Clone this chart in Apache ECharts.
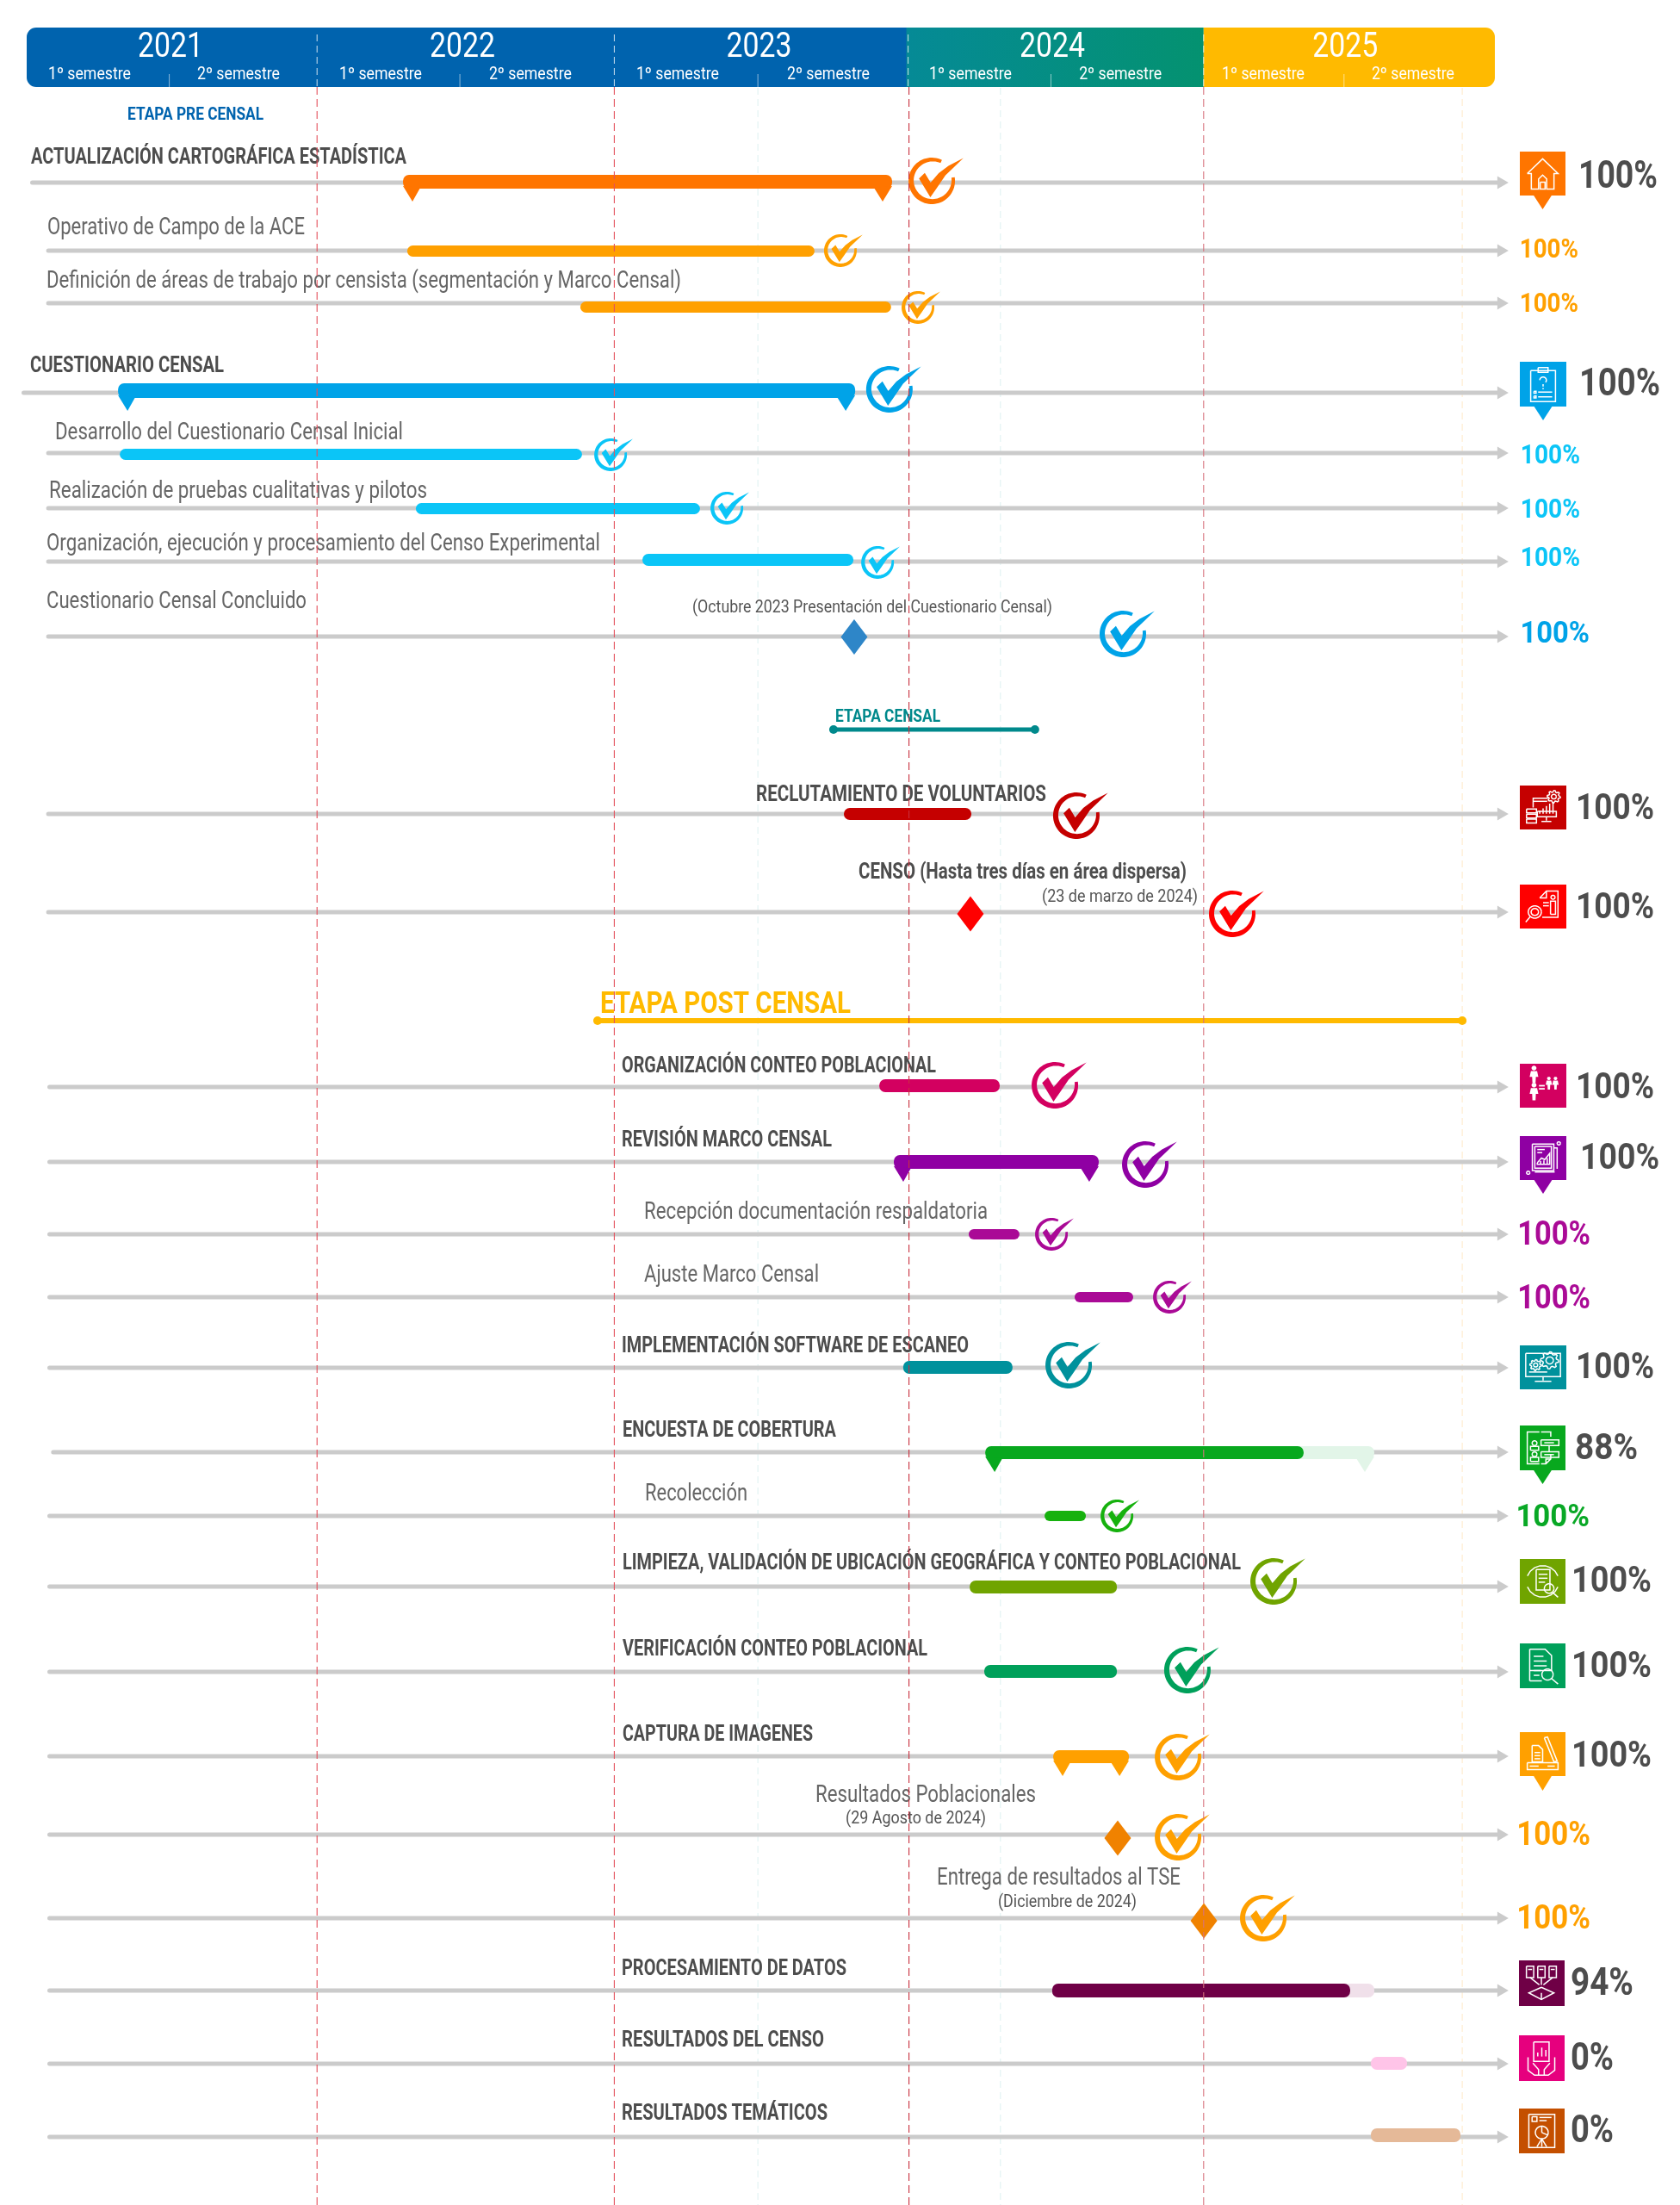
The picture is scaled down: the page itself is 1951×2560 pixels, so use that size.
<!DOCTYPE html>
<html><head><meta charset="utf-8">
<style>html,body{margin:0;padding:0;background:#fff}#c{width:1951px;height:2560px}</style>
<script src="https://cdn.jsdelivr.net/npm/echarts@6/dist/echarts.min.js"></script>
</head><body><div id="c"></div>
<script>
// ---------- DATA (x values are months counted from January 2021) ----------
const years = ['2021','2022','2023','2024','2025'];
const yearCentre = [6.05, 17.9, 29.95, 41.85, 53.75];
const semesterNames = ['1º semestre','2º semestre','1º semestre','2º semestre','1º semestre','2º semestre','1º semestre','2º semestre','1º semestre','2º semestre'];
const semesterCentre = [2.76,8.81,14.58,20.66,26.64,32.76,38.53,44.62,50.42,56.5];
const semesterTicks = [6,17.8,29.9,41.8,53.7];
const yearLines = [12,24,36,48];
const minorLines = [29.9,39.75,58.5];

const rowNames = ['ACTUALIZACIÓN CARTOGRÁFICA ESTADÍSTICA','Operativo de Campo de la ACE','Definición de áreas de trabajo por censista (segmentación y Marco Censal)','CUESTIONARIO CENSAL','Desarrollo del Cuestionario Censal Inicial','Realización de pruebas cualitativas y pilotos','Organización, ejecución y procesamiento del Censo Experimental','Cuestionario Censal Concluido','RECLUTAMIENTO DE VOLUNTARIOS','CENSO (Hasta tres días en área dispersa)','ORGANIZACIÓN CONTEO POBLACIONAL','REVISIÓN MARCO CENSAL','Recepción documentación respaldatoria','Ajuste Marco Censal','IMPLEMENTACIÓN SOFTWARE DE ESCANEO','ENCUESTA DE COBERTURA','Recolección','LIMPIEZA, VALIDACIÓN DE UBICACIÓN GEOGRÁFICA Y CONTEO POBLACIONAL','VERIFICACIÓN CONTEO POBLACIONAL','CAPTURA DE IMAGENES','Resultados Poblacionales','Entrega de resultados al TSE','PROCESAMIENTO DE DATOS','RESULTADOS DEL CENSO','RESULTADOS TEMÁTICOS'];
const rowHeading = [1,0,0,1,0,0,0,0,1,1,1,1,0,0,1,1,0,1,1,1,0,0,1,1,1];
const rowStart = [15.49,15.66,22.69,3.92,3.99,16.01,25.21,null,33.39,null,34.83,35.42,38.46,42.76,35.8,39.13,41.54,38.5,39.09,41.89,null,null,41.85,54.79,54.79];
const rowDone  = [35.35,32.2,35.31,33.85,22.76,27.55,33.78,null,38.57,null,39.72,43.74,40.52,45.14,40.24,52.06,43.22,44.48,44.48,44.97,null,null,53.95,null,null];
const rowPlanEnd = [null,null,null,null,null,null,null,null,null,null,null,null,null,null,null,54.93,null,null,null,null,null,null,54.93,56.26,58.43];
const rowCheck = [36.96,33.25,36.4,35.24,23.92,28.64,34.76,44.72,42.83,49.16,41.96,45.63,41.82,46.61,42.52,null,44.48,50.84,47.34,46.96,46.96,50.42,null,null,null];
const rowMilestone = [null,null,null,null,null,null,null,33.81,null,38.53,null,null,null,null,null,null,null,null,null,null,44.51,48.01,null,null,null];
const rowPercent = [100,100,100,100,100,100,100,100,100,100,100,100,100,100,100,88,100,100,100,100,100,100,94,0,0];
const rowNotes = {7:'(Octubre 2023 Presentación del Cuestionario Censal)',9:'(23 de marzo de 2024)',20:'(29 Agosto de 2024)',21:'(Diciembre de 2024)'};
const phaseNames = ['ETAPA PRE CENSAL','ETAPA CENSAL','ETAPA POST CENSAL'];
const phaseStart = [null,32.97,23.39];
const phaseEnd = [null,41.15,58.5];

// ---------- LAYOUT & STYLE ----------
const rowLevel = [212,291,352,456,526,590,652,739,945,1059,1262,1349,1433,1506,1588,1686,1760,1842,1941,2039,2130,2227,2311,2396,2481];
const trackFrom = [0.35,1,1,0,1,1,1,1,1,1,1.05,1.05,1.05,1.05,1.05,1.2,1.05,1.05,1.05,1.05,1.05,1.05,1.05,1.05,1.05];
const trackEnd = 60.38;
const barLevel = [211,291.5,356.5,453.5,527.5,590.5,650,0,945,0,1260.5,1349,1433,1506,1587.5,1686.5,1760,1842.5,1940.5,2039.5,0,0,2311,2395.5,2479];
const barHeight = [16,13,13,17,13,13,14,0,14,0,15,16,12,12,15,15,12,15,15,15,0,0,16,15,16];
const barColor = ['#ff7500','#ffa000','#ffa000','#00a3e8','#0bc5f7','#0bc5f7','#0bc5f7','','#c50000','','#d30060','#8f00a3','#aa0a96','#aa0a96','#00919c','#08a81e','#16b10e','#70a400','#00a05a','#ffa000','','','#6f0046','#ffc4e8','#e5b998'];
const planColor = {15:'#e2f5e8',22:'#f0e0ea',23:'#ffc4e8',24:'#e5b998'};
const pinRows = {0:1,3:1,11:1,15:1,19:1};
const checkLevel = [210,291,357,452,528,590,653,736,947,1061,1260,1352,1433,1506,1585,0,1760,1836,1939,2040,2133,2227,0,0,0];
const checkRadius = [27,19,19,27,19,19,19,27,27,27,27,27,19,19,27,0,19,27,27,27,27,27,0,0,0];
const checkColor = ['#ff7500','#ffa000','#ffa000','#00a3e8','#0bc5f7','#0bc5f7','#0bc5f7','#00a3e8','#c50000','#ff0000','#d30060','#8f00a3','#aa0a96','#aa0a96','#00919c','','#16b10e','#70a400','#00a05a','#ffa000','#ffa000','#ffa000','','',''];
const milestoneLevel = {7:739.5,9:1061,20:2134,21:2230};
const milestoneColor = {7:'#2e86c8',9:'#ff0000',20:'#f08200',21:'#f08200'};
const labelBox = [[36,190,436],[55,272,299],[54,334,737],[35,432,225],[64,510,404],[57,578,439],[54,639,643],[54,706,302],[878,930,337],[997,1020,381],[722,1245,365],[722,1331,244],[748,1415,399],[748,1488,203],[722,1570,403],[723,1668,248],[749,1742,119],[723,1822,718],[723,1922,354],[723,2021,221],[947,2092,256],[1088,2188,283],[722,2293,261],[722,2376,235],[722,2461,239]];
const noteBox = {7:[804,711,418],9:[1210,1047,181],20:[982,2117,163],21:[1159,2214,161]};
const percentBox = [[1836,218,89,44,'#4d4d4d'],[1767,299,66,31,'#ffa000'],[1767,362,66,31,'#ffa000'],[1837,459,91,44,'#4d4d4d'],[1768,538,67,31,'#0bc5f7'],[1768,601,67,31,'#0bc5f7'],[1768,657,67,31,'#0bc5f7'],[1768,746,78,35,'#00a3e8'],[1833,951,88,42,'#4d4d4d'],[1833,1066,88,42,'#4d4d4d'],[1833,1275,88,42,'#4d4d4d'],[1838,1357,89,42,'#4d4d4d'],[1765,1445,82,38,'#aa0a96'],[1765,1519,82,38,'#aa0a96'],[1833,1600,88,42,'#4d4d4d'],[1832,1694,70,42,'#4d4d4d'],[1763,1772,83,37,'#09a826'],[1828,1848,90,42,'#4d4d4d'],[1828,1947,90,42,'#4d4d4d'],[1828,2051,90,42,'#4d4d4d'],[1764,2142,83,38,'#ffa000'],[1764,2239,83,38,'#ffa000'],[1827,2316,70,44,'#4d4d4d'],[1827,2403,47,44,'#4d4d4d'],[1827,2487,47,44,'#4d4d4d']];
const phaseBox = [[148,139,158,20,'#0063ae'],[970,838,122,20,'#00898c'],[697,1176,291,35,'#ffba00']];
const phaseLevel = [0,847,1185];
const phaseWidth = [0,5,6];

const mctx = document.createElement('canvas').getContext('2d');
function txt(str, left, base, width, size, fill, weight){
  mctx.font = (weight||'normal')+' '+size+'px Roboto';
  const s = width ? width/mctx.measureText(str).width : 1;
  return {type:'text', x:left, y:base-0.24*size, scaleX:s, silent:true,
    style:{text:str, fontFamily:'Roboto', fontSize:size, fontWeight:weight||'normal', fill:fill, align:'left', verticalAlign:'middle', textAlign:'left', textVerticalAlign:'middle'}};
}
// glyph helpers (0..100 unit box)
const R=(x,y,w,h)=>[[x,y],[x+w,y],[x+w,y+h],[x,y+h],[x,y]];
const L=(a,b,c,d)=>[[a,b],[c,d]];
const C=(x,y,r,a0=0,a1=360)=>{const p=[];for(let a=a0;a<=a1;a+=20){p.push([x+r*Math.cos(a*Math.PI/180),y+r*Math.sin(a*Math.PI/180)]);}return p;};
const G=(x,y,r,n=8)=>{const p=[];for(let k=0;k<=n*4;k++){const a=k/(n*4)*2*Math.PI;const rr=(k%4<2)?r:r*0.76;p.push([x+rr*Math.cos(a),y+rr*Math.sin(a)]);}return p;};
const iconGlyph = {
 0:[[[12,50],[50,12],[88,50],[78,50],[78,90],[60,90],[60,64],[50,54],[40,64],[40,90],[22,90],[22,50],[12,50]],R(44,72,12,18)],
 3:[R(20,16,60,78),R(38,8,24,12),C(50,40,8,180,400),L(50,50,50,56),L(50,60,50,63),R(28,68,5,5),L(38,70,72,70),R(28,80,5,5),L(38,82,72,82)],
 8:[[[62,26],[26,26],[26,50]],L(26,34,60,34),G(76,22,16),C(76,22,6),L(42,66,42,58),L(50,66,50,52),L(58,66,58,46),L(66,66,66,40),L(74,66,74,36),R(36,60,46,14),L(58,74,58,84),L(46,86,70,86),R(10,54,24,10),R(10,67,24,10),R(10,80,24,10)],
 9:[[[42,28],[58,10],[86,10],[86,78],[48,78]],[[42,28],[58,28],[58,10]],L(50,40,64,40),L(50,48,64,48),C(74,26,5),[[68,70],[68,36],[80,36],[80,70],[68,70]],C(30,64,16),C(30,64,9),L(19,76,8,90)],
 10:[],
 11:[R(24,14,52,68),R(30,20,40,56),L(36,28,54,28),L(36,36,48,36),[[36,62],[46,50],[54,54],[66,38],[66,66],[36,66],[36,62]],L(44,58,44,66),L(52,56,52,66),L(60,50,60,66),[[76,24],[84,24],[84,78]],[[30,86],[78,86]],C(88,12,4),C(14,88,4)],
 14:[R(8,14,84,60),L(16,62,60,62),L(50,74,50,84),L(30,86,70,86),G(32,44,14),C(32,44,5),G(66,32,22),C(66,32,9)],
 15:[[[42,10],[12,10],[12,90],[42,90]],[[46,10],[70,10],[70,22]],[[70,66],[70,78],[58,90],[46,90]],[[70,78],[58,78],[58,90]],C(30,38,6),[[20,56],[20,46],[40,46],[40,56],[20,56]],C(30,66,6),[[20,84],[20,74],[40,74],[40,84],[20,84]],R(46,30,44,14),R(46,60,44,14),L(54,37,78,37),L(54,67,78,67),L(66,44,66,60)],
 17:[C(50,50,40,200,340),C(50,50,40,20,160),R(34,20,34,52),L(40,32,62,32),L(40,42,62,42),L(40,52,56,52),C(66,68,12),L(75,78,88,90)],
 18:[[[18,8],[56,8],[72,24],[72,62],[18,62]],L(18,8,18,88),L(18,88,48,88),L(28,26,52,26),L(28,38,60,38),L(28,50,60,50),L(28,62,46,62),L(28,74,42,74),C(62,72,14),L(72,82,88,96)],
 19:[[[24,28],[40,28],[50,38],[50,70],[24,70],[24,28]],L(30,46,44,46),L(30,54,44,54),L(30,62,44,62),[[54,8],[62,6],[86,68],[78,70],[54,8]],R(12,72,76,18),L(18,81,40,81),L(62,81,80,81)],
 22:[R(12,8,18,28),R(40,8,18,28),R(68,8,18,28),L(16,16,26,16),L(44,16,54,16),L(72,16,82,16),L(21,36,44,54),L(49,36,49,54),L(77,36,54,54),[[49,60],[80,74],[49,90],[18,74],[49,60]],L(49,74,49,90)],
 23:[R(30,10,38,48),L(40,46,40,36),L(50,46,50,24),L(60,46,60,30),[[16,48],[16,80],[32,92],[66,92],[82,80],[82,48]],[[28,62],[42,78],[42,92]],[[70,62],[56,78],[56,92]]],
 24:[R(18,8,64,84),R(26,14,12,12),L(44,16,74,16),L(44,24,62,24),C(50,54,16),L(50,54,50,38),L(50,54,64,60),L(50,70,38,90),L(50,70,62,90),L(50,70,50,90)]
};
const person=(x,y,s)=>[C(x,y-34*s,8*s),[[x-10*s,y-24*s],[x+10*s,y-24*s],[x+14*s,y-4*s],[x+6*s,y-4*s],[x+5*s,y+18*s],[x-5*s,y+18*s],[x-6*s,y-4*s],[x-14*s,y-4*s]]];
const iconFilled = {10:[...person(28,30,.75),...person(28,74,.75),...person(64,50,.55),...person(80,50,.55),R(40,48,14,4),R(40,56,14,4)]};
const iconBox = {0:[1765,176,53,51,243,'#ff7500'],3:[1765,420,54,52,488,'#00a3e8'],8:[1765,912,54,51,0,'#c50000'],9:[1765,1027,54,51,0,'#ff0000'],10:[1765,1235,54,51,0,'#d30060'],11:[1765,1319,54,51,1386,'#8f00a3'],14:[1765,1562,54,51,0,'#00919c'],15:[1765,1655,53,52,1723,'#08a81e'],17:[1765,1810,53,52,0,'#70a400'],18:[1765,1908,53,52,0,'#00a05a'],19:[1765,2011,53,51,2079,'#ffa000'],22:[1764,2276,53,53,0,'#6f0046'],23:[1764,2363,53,53,0,'#e6007e'],24:[1764,2448,53,52,0,'#c44f00']};

const rowIdx = rowNames.map((_,i)=>i);
const chart = echarts.init(document.getElementById('c'), null, {renderer:'canvas'});

function checkShape(cx,cy,r,color){
  const pts=[]; const a0=-64, a1=-369;
  const n=60;
  for(let i=0;i<=n;i++){const t=i/n;const a=(a0+(a1-a0)*t)*Math.PI/180;pts.push([cx+r*Math.cos(a),cy+r*Math.sin(a)]);}
  for(let i=n;i>=0;i--){const t=i/n;const a=(a0+(a1-a0)*t)*Math.PI/180;const th=0.14+0.09*Math.sin(Math.PI*t);const q=r*(1-th);pts.push([cx+q*Math.cos(a),cy+q*Math.sin(a)]);}
  const mark=[[-0.55,-0.1],[-0.3,-0.34],[-0.05,0.07],[0.3,-0.33],[0.72,-0.65],[1.36,-0.98],[0.95,-0.58],[0.59,-0.24],[0.25,0.26],[-0.06,0.7]].map(p=>[cx+p[0]*r,cy+p[1]*r]);
  return [
    {type:'polygon',shape:{points:pts},style:{fill:color},silent:true},
    {type:'polygon',shape:{points:mark},style:{fill:color},silent:true}
  ];
}
function bar(x0,x1,y,h,fill,leftPin,rightPin){
  const kids=[{type:'rect',shape:{x:x0,y:y-h/2,width:x1-x0,height:h,r:Math.min(7,h/2)},style:{fill}}];
  const tip=h/2+15;
  if(leftPin) kids.push({type:'polygon',shape:{points:[[x0,y+h/2-3],[x0+20,y+h/2-1],[x0+11,y+tip]]},style:{fill}});
  if(rightPin) kids.push({type:'polygon',shape:{points:[[x1-21,y+h/2-1],[x1,y+h/2-3],[x1-11,y+tip]]},style:{fill}});
  return kids;
}

chart.setOption({
  animation:false,
  grid:{left:25,width:1716,top:0,height:2560,containLabel:false},
  xAxis:{type:'value',min:0,max:60,show:false},
  yAxis:{type:'value',min:0,max:2560,inverse:true,show:false},
  series:[
    // header band
    {type:'custom',name:'header',z:5,data:[0],renderItem:(p,api)=>{
      const x=m=>api.coord([m,0])[0];
      const c=[];
      c.push({type:'rect',shape:{x:31,y:32,width:x(36)-31+10,height:69,r:[11,0,0,11]},style:{fill:'#0063ae'}});
      c.push({type:'rect',shape:{x:x(36)-2,y:32,width:x(48)-x(36)+2,height:69},style:{fill:new echarts.graphic.LinearGradient(0,0,1,0,[{offset:0,color:'#058a96'},{offset:1,color:'#049270'}])}});
      c.push({type:'rect',shape:{x:x(48),y:32,width:1736-x(48),height:69,r:[0,11,11,0]},style:{fill:'#ffba00'}});
      semesterTicks.forEach(m=>c.push({type:'line',shape:{x1:x(m),y1:86,x2:x(m),y2:101},style:{stroke:'rgba(255,255,255,0.55)',lineWidth:1}}));
      yearLines.forEach(m=>c.push({type:'line',shape:{x1:x(m)+(m===24?2:0),y1:40,x2:x(m)+(m===24?2:0),y2:101},style:{stroke:'rgba(255,255,255,0.8)',lineWidth:1,lineDash:[8,5]}}));
      years.forEach((s,i)=>c.push(txt(s,x(yearCentre[i])-38,66,76,41,'#fff')));
      semesterNames.forEach((s,i)=>c.push(txt(s,x(semesterCentre[i])-48,92,96,20,'#fff')));
      return {type:'group',children:c};
    }},
    // minor dashed guide lines
    {type:'custom',name:'guides',z:1,data:minorLines.map(m=>[m]),renderItem:(p,api)=>{
      const m=api.value(0);const a=api.coord([m,102]),b=api.coord([m,2560]);
      return {type:'line',shape:{x1:a[0],y1:a[1],x2:b[0],y2:b[1]},style:{stroke:m>50?'#ffe9c6':'#dcf0f0',lineWidth:1,lineDash:[8,5]}};
    }},
    // tracks
    {type:'custom',name:'tracks',z:2,data:rowIdx.map(i=>[trackFrom[i],rowLevel[i]]),renderItem:(p,api)=>{
      const a=api.coord([api.value(0),api.value(1)]),b=api.coord([trackEnd,api.value(1)]);
      return {type:'group',children:[
        {type:'line',shape:{x1:a[0]+2.5,y1:a[1],x2:b[0]-12,y2:a[1]},style:{stroke:'#cbcbcb',lineWidth:5,lineCap:'round'}},
        {type:'polygon',shape:{points:[[b[0]-13,a[1]-7.5],[b[0],a[1]],[b[0]-13,a[1]+7.5]]},style:{fill:'#cbcbcb'}}
      ]};
    }},
    // planned (not yet finished) span
    {type:'custom',name:'planned',z:3,data:rowIdx.filter(i=>rowPlanEnd[i]!=null).map(i=>[i,rowStart[i],rowPlanEnd[i]]),renderItem:(p,api)=>{
      const i=api.value(0);const a=api.coord([api.value(1),barLevel[i]]),b=api.coord([api.value(2),barLevel[i]]);
      const pin=pinRows[i];
      return {type:'group',children:bar(a[0],b[0],a[1],barHeight[i],planColor[i],false,pin)};
    }},
    // completed span
    {type:'custom',name:'done',z:4,data:rowIdx.filter(i=>rowDone[i]!=null).map(i=>[i,rowStart[i],rowDone[i]]),renderItem:(p,api)=>{
      const i=api.value(0);const a=api.coord([api.value(1),barLevel[i]]),b=api.coord([api.value(2),barLevel[i]]);
      const pin=pinRows[i];
      return {type:'group',children:bar(a[0],b[0],a[1],barHeight[i],barColor[i],pin,pin&&rowPlanEnd[i]==null)};
    }},
    // milestones
    {type:'scatter',name:'milestones',z:4,symbol:'diamond',symbolSize:[31,41],clip:false,silent:true,
      data:rowIdx.filter(i=>rowMilestone[i]!=null).map(i=>({value:[rowMilestone[i],milestoneLevel[i]],itemStyle:{color:milestoneColor[i],opacity:1}}))},
    // stage lines
    {type:'custom',name:'phases',z:4,data:[1,2].map(i=>[i,phaseStart[i],phaseEnd[i]]),renderItem:(p,api)=>{
      const i=api.value(0);const a=api.coord([api.value(1),phaseLevel[i]]),b=api.coord([api.value(2),phaseLevel[i]]);
      const col=phaseBox[i][4];
      return {type:'group',children:[
        {type:'line',shape:{x1:a[0],y1:a[1],x2:b[0],y2:b[1]},style:{stroke:col,lineWidth:phaseWidth[i]}},
        {type:'circle',shape:{cx:a[0],cy:a[1],r:5},style:{fill:col}},
        {type:'circle',shape:{cx:b[0],cy:b[1],r:5},style:{fill:col}}
      ]};
    }},
    // check marks
    {type:'custom',name:'checks',z:6,data:rowIdx.filter(i=>rowCheck[i]!=null).map(i=>[i,rowCheck[i]]),renderItem:(p,api)=>{
      const i=api.value(0);const a=api.coord([api.value(1),checkLevel[i]]);
      return {type:'group',children:checkShape(a[0],a[1],checkRadius[i],checkColor[i])};
    }},
    // texts
    {type:'custom',name:'labels',z:7,data:[0],renderItem:()=>{
      const c=[];
      rowNames.forEach((s,i)=>{const b=labelBox[i];
        c.push(rowHeading[i]?txt(s,b[0],b[1],b[2],25,'#4d4d4d','bold'):txt(s,b[0],b[1],b[2],27,'#666666'));});
      Object.keys(rowNotes).forEach(k=>{const b=noteBox[k];c.push(txt(rowNotes[k],b[0],b[1],b[2],20,'#555555'));});
      phaseNames.forEach((s,i)=>{const b=phaseBox[i];c.push(txt(s,b[0],b[1],b[2],b[3],b[4],'bold'));});
      rowPercent.forEach((v,i)=>{const b=percentBox[i];const d=b[3]*0.07;c.push(txt(v+'%',b[0]-d,b[1],b[2]+d,b[3],b[4],'bold'));});
      return {type:'group',children:c};
    }},
    // section icons
    {type:'custom',name:'icons',z:7,data:[0],renderItem:()=>{
      const c=[];
      Object.keys(iconBox).forEach(k=>{const [x,y,w,h,tip,col]=iconBox[k];
        const map=q=>[x+3+q[0]/100*(w-6),y+3+q[1]/100*(h-6)];
        c.push({type:'rect',shape:{x,y,width:w,height:h},style:{fill:col}});
        if(tip)c.push({type:'polygon',shape:{points:[[x+w/2-11,y+h-1],[x+w/2+11,y+h-1],[x+w/2,tip]]},style:{fill:col}});
        (iconGlyph[k]||[]).forEach(pl=>c.push({type:'polyline',shape:{points:pl.map(map)},style:{fill:null,stroke:'#fff',lineWidth:1.5}}));
        (iconFilled[k]||[]).forEach(pl=>c.push({type:'polygon',shape:{points:pl.map(map)},style:{fill:'#fff'}}));
      });
      return {type:'group',children:c};
    }},
    // year dashed lines, on top of the bars
    {type:'custom',name:'yearLines',z:8,data:yearLines.map(m=>[m]),renderItem:(p,api)=>{
      const m=api.value(0);const a=api.coord([m,101]),b=api.coord([m,2560]);
      const off=m===24?2:(m===36?1:0);
      return {type:'line',shape:{x1:a[0]+off,y1:a[1],x2:b[0]+off,y2:b[1]},style:{stroke:m===48?'#d8727e':(m===36?'#c8303e':'#e4525e'),lineWidth:1.1,lineDash:[9,5]}};
    }}
  ]
});
</script></body></html>
